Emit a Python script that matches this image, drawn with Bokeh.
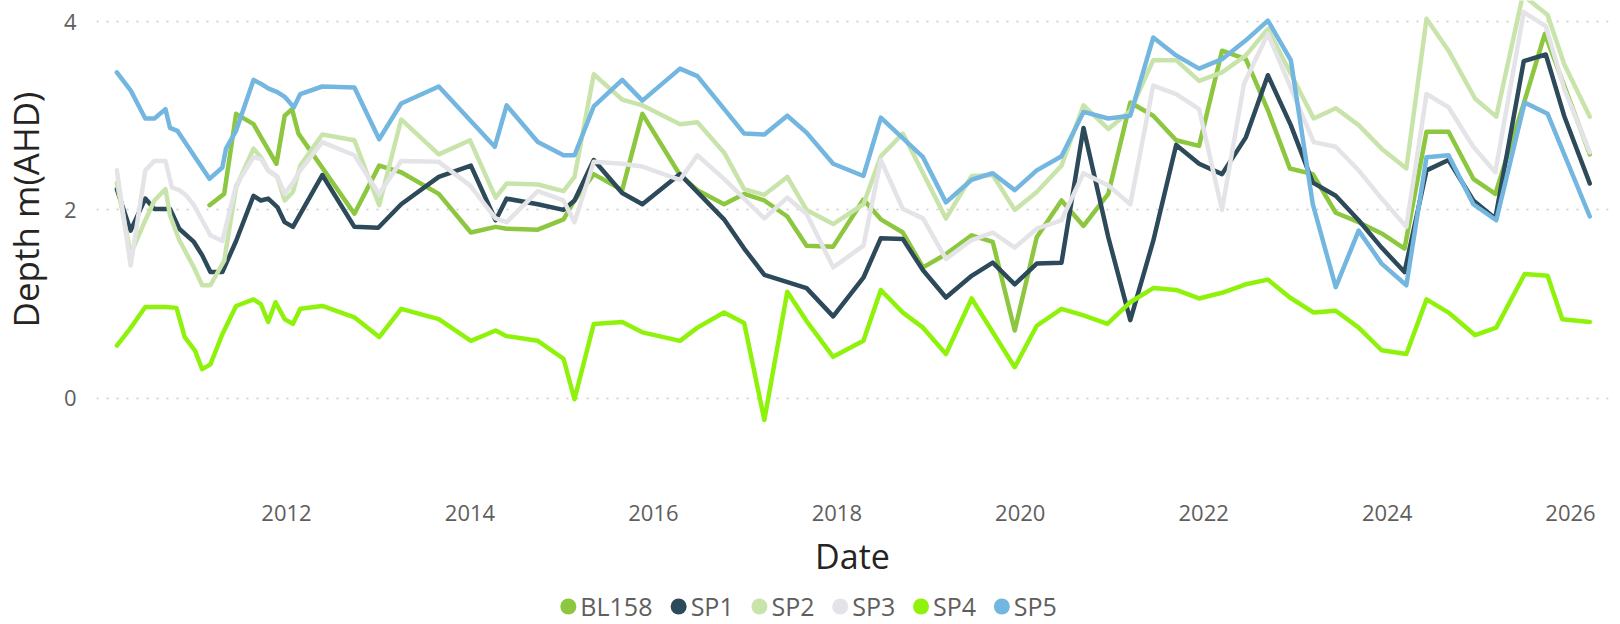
import math
from bokeh.plotting import figure
from bokeh.models import FixedTicker, Range1d
from bokeh.layouts import column, row
from bokeh.embed import file_html
from bokeh.resources import INLINE
from bokeh.core.properties import value

FONT = "Open Sans"

# ---------------- data (dates as decimal years, depth in m AHD) ----------------
series_names = ["BL158", "SP1", "SP2", "SP3", "SP4", "SP5"]
series_colors = ["#8DC63F", "#2D4A5A", "#C9E4AB", "#E4E3E7", "#8FF20B", "#73B6DF"]

bl158_dates = [2011.16, 2011.32, 2011.45, 2011.64, 2011.74, 2011.89, 2011.98, 2012.06, 2012.13, 2012.74,
               2013.01, 2013.25, 2013.66, 2014.01, 2014.28, 2014.40, 2014.74, 2015.02, 2015.14, 2015.35,
               2015.66, 2015.88, 2016.29, 2016.48, 2016.77, 2016.99, 2017.21, 2017.46, 2017.67, 2017.96,
               2018.29, 2018.48, 2018.72, 2018.94, 2019.19, 2019.47, 2019.70, 2019.94, 2020.18, 2020.45,
               2020.69, 2020.96, 2021.20, 2021.45, 2021.70, 2021.95, 2022.20, 2022.46, 2022.70, 2022.94,
               2023.19, 2023.44, 2023.69, 2023.94, 2024.19, 2024.43, 2024.67, 2024.94, 2025.18, 2025.49,
               2025.72, 2026.21]
bl158_depth = [2.05, 2.17, 3.02, 2.91, 2.74, 2.49, 3.00, 3.07, 2.81, 1.96,
               2.47, 2.40, 2.17, 1.76, 1.82, 1.80, 1.79, 1.90, 2.10, 2.38,
               2.21, 3.02, 2.37, 2.21, 2.06, 2.17, 2.10, 1.93, 1.62, 1.61,
               2.11, 1.90, 1.76, 1.39, 1.53, 1.73, 1.66, 0.72, 1.71, 2.10,
               1.83, 2.17, 3.14, 3.00, 2.74, 2.68, 3.69, 3.60, 3.06, 2.44,
               2.38, 1.97, 1.87, 1.75, 1.59, 2.83, 2.83, 2.33, 2.17, 3.13,
               3.87, 2.59]

sp1_dates = [2010.15, 2010.30, 2010.46, 2010.56, 2010.73, 2010.83, 2010.99, 2011.08, 2011.17, 2011.30,
             2011.45, 2011.64, 2011.72, 2011.80, 2011.90, 2011.98, 2012.07, 2012.39, 2012.74, 2013.00,
             2013.25, 2013.66, 2014.01, 2014.28, 2014.40, 2014.74, 2015.02, 2015.14, 2015.35, 2015.66,
             2015.88, 2016.29, 2016.77, 2016.99, 2017.21, 2017.67, 2017.96, 2018.29, 2018.48, 2018.72,
             2018.94, 2019.19, 2019.47, 2019.70, 2019.94, 2020.18, 2020.45, 2020.69, 2020.96, 2021.20,
             2021.45, 2021.70, 2021.95, 2022.20, 2022.46, 2022.70, 2022.95, 2023.19, 2023.44, 2023.69,
             2023.94, 2024.19, 2024.43, 2024.67, 2024.94, 2025.18, 2025.49, 2025.73, 2025.93, 2026.21]
sp1_depth = [2.22, 1.78, 2.12, 2.01, 2.01, 1.80, 1.66, 1.52, 1.34, 1.34,
             1.67, 2.15, 2.10, 2.12, 2.03, 1.87, 1.82, 2.37, 1.82, 1.81,
             2.06, 2.35, 2.47, 1.89, 2.12, 2.06, 2.00, 2.10, 2.53, 2.18,
             2.06, 2.38, 1.90, 1.59, 1.31, 1.17, 0.87, 1.28, 1.70, 1.69,
             1.36, 1.07, 1.30, 1.44, 1.21, 1.43, 1.44, 2.87, 1.71, 0.83,
             1.67, 2.69, 2.49, 2.38, 2.77, 3.43, 2.90, 2.29, 2.15, 1.89,
             1.60, 1.34, 2.42, 2.53, 2.10, 1.91, 3.58, 3.65, 3.00, 2.28]

sp2_dates = [2010.15, 2010.30, 2010.46, 2010.56, 2010.68, 2010.73, 2010.83, 2010.99, 2011.08, 2011.17,
             2011.32, 2011.45, 2011.64, 2011.72, 2011.80, 2011.90, 2011.98, 2012.07, 2012.15, 2012.39,
             2012.74, 2013.01, 2013.25, 2013.66, 2014.00, 2014.28, 2014.40, 2014.74, 2015.02, 2015.14,
             2015.35, 2015.66, 2015.88, 2016.29, 2016.48, 2016.77, 2016.99, 2017.21, 2017.46, 2017.67,
             2017.96, 2018.29, 2018.48, 2018.72, 2019.19, 2019.47, 2019.70, 2019.94, 2020.18, 2020.45,
             2020.69, 2020.96, 2021.20, 2021.45, 2021.70, 2021.95, 2022.20, 2022.46, 2022.70, 2023.20,
             2023.44, 2023.69, 2023.94, 2024.21, 2024.43, 2024.67, 2024.96, 2025.19, 2025.48, 2025.75,
             2025.93, 2026.21]
sp2_depth = [2.29, 1.53, 1.89, 2.10, 2.22, 1.94, 1.68, 1.39, 1.20, 1.20,
             1.46, 2.24, 2.65, 2.56, 2.42, 2.35, 2.10, 2.19, 2.47, 2.80,
             2.74, 2.05, 2.96, 2.59, 2.74, 2.13, 2.28, 2.27, 2.20, 2.35,
             3.44, 3.17, 3.11, 2.91, 2.93, 2.61, 2.22, 2.16, 2.35, 2.00,
             1.85, 2.06, 2.57, 2.81, 1.91, 2.36, 2.37, 2.00, 2.19, 2.47,
             3.11, 2.86, 3.05, 3.59, 3.59, 3.37, 3.46, 3.64, 3.92, 2.97,
             3.08, 2.90, 2.65, 2.44, 4.03, 3.69, 3.18, 2.99, 4.28, 4.07,
             3.55, 2.99]

sp3_dates = [2010.15, 2010.30, 2010.46, 2010.56, 2010.68, 2010.75, 2010.83, 2010.91, 2010.99, 2011.08,
             2011.17, 2011.30, 2011.45, 2011.64, 2011.72, 2011.80, 2011.90, 2011.98, 2012.07, 2012.15,
             2012.39, 2012.74, 2013.01, 2013.25, 2013.66, 2014.00, 2014.28, 2014.40, 2014.74, 2015.02,
             2015.14, 2015.35, 2015.66, 2015.88, 2016.29, 2016.48, 2016.77, 2017.21, 2017.46, 2017.67,
             2017.96, 2018.29, 2018.48, 2018.72, 2018.94, 2019.19, 2019.47, 2019.70, 2019.94, 2020.18,
             2020.45, 2020.69, 2020.96, 2021.20, 2021.45, 2021.70, 2021.95, 2022.20, 2022.44, 2022.70,
             2023.20, 2023.44, 2023.69, 2023.94, 2024.21, 2024.43, 2024.67, 2024.94, 2025.18, 2025.49,
             2025.73, 2025.93, 2026.21]
sp3_depth = [2.42, 1.41, 2.42, 2.52, 2.52, 2.24, 2.21, 2.15, 2.05, 1.89,
             1.73, 1.67, 2.26, 2.56, 2.54, 2.42, 2.35, 2.17, 2.29, 2.42,
             2.72, 2.58, 2.17, 2.52, 2.51, 2.26, 1.91, 1.87, 2.20, 2.10,
             1.87, 2.51, 2.49, 2.46, 2.32, 2.58, 2.33, 1.91, 2.13, 1.96,
             1.39, 1.62, 2.53, 2.01, 1.91, 1.48, 1.68, 1.76, 1.60, 1.80,
             1.89, 2.39, 2.26, 2.06, 3.32, 3.23, 3.07, 2.00, 3.34, 3.87,
             2.72, 2.67, 2.42, 2.12, 1.82, 3.23, 3.09, 2.67, 2.40, 4.10,
             3.95, 3.29, 2.61]

sp4_dates = [2010.15, 2010.28, 2010.46, 2010.56, 2010.68, 2010.80, 2010.89, 2011.00, 2011.08, 2011.17,
             2011.30, 2011.45, 2011.64, 2011.72, 2011.80, 2011.88, 2011.98, 2012.07, 2012.15, 2012.39,
             2012.74, 2013.01, 2013.25, 2013.66, 2014.01, 2014.28, 2014.40, 2014.74, 2015.02, 2015.14,
             2015.35, 2015.66, 2015.88, 2016.29, 2016.48, 2016.77, 2016.99, 2017.21, 2017.46, 2017.67,
             2017.96, 2018.29, 2018.48, 2018.72, 2018.94, 2019.19, 2019.47, 2019.94, 2020.18, 2020.45,
             2020.69, 2020.95, 2021.20, 2021.45, 2021.70, 2021.95, 2022.20, 2022.46, 2022.70, 2022.94,
             2023.20, 2023.44, 2023.69, 2023.94, 2024.21, 2024.43, 2024.67, 2024.96, 2025.19, 2025.50,
             2025.75, 2025.91, 2026.21]
sp4_depth = [0.56, 0.72, 0.97, 0.97, 0.97, 0.96, 0.65, 0.51, 0.31, 0.36,
             0.68, 0.98, 1.05, 1.00, 0.81, 1.02, 0.84, 0.79, 0.95, 0.98,
             0.86, 0.65, 0.95, 0.84, 0.61, 0.72, 0.66, 0.61, 0.42, -0.01,
             0.79, 0.81, 0.70, 0.61, 0.75, 0.91, 0.80, -0.23, 1.13, 0.82,
             0.44, 0.61, 1.15, 0.91, 0.75, 0.47, 1.06, 0.33, 0.77, 0.95,
             0.88, 0.79, 1.02, 1.17, 1.15, 1.06, 1.12, 1.21, 1.26, 1.07,
             0.91, 0.93, 0.75, 0.51, 0.47, 1.05, 0.91, 0.67, 0.75, 1.32,
             1.30, 0.84, 0.81]

sp5_dates = [2010.15, 2010.30, 2010.46, 2010.56, 2010.68, 2010.73, 2010.81, 2011.16, 2011.30, 2011.34,
             2011.45, 2011.64, 2011.72, 2011.80, 2011.90, 2011.98, 2012.08, 2012.15, 2012.39, 2012.74,
             2013.01, 2013.25, 2013.66, 2014.27, 2014.40, 2014.74, 2015.02, 2015.14, 2015.35, 2015.66,
             2015.88, 2016.29, 2016.48, 2016.99, 2017.21, 2017.46, 2017.67, 2017.96, 2018.29, 2018.48,
             2018.94, 2019.19, 2019.47, 2019.70, 2019.94, 2020.18, 2020.45, 2020.69, 2020.96, 2021.20,
             2021.45, 2021.70, 2021.95, 2022.20, 2022.46, 2022.70, 2022.95, 2023.19, 2023.44, 2023.69,
             2023.94, 2024.21, 2024.43, 2024.67, 2024.94, 2025.19, 2025.50, 2025.75, 2026.21]
sp5_depth = [3.46, 3.27, 2.97, 2.97, 3.07, 2.87, 2.84, 2.33, 2.45, 2.65,
             2.84, 3.38, 3.34, 3.29, 3.25, 3.20, 3.09, 3.23, 3.31, 3.30,
             2.75, 3.13, 3.31, 2.67, 3.11, 2.72, 2.58, 2.58, 3.10, 3.38,
             3.16, 3.50, 3.42, 2.81, 2.80, 3.00, 2.82, 2.49, 2.36, 2.98,
             2.56, 2.08, 2.32, 2.39, 2.21, 2.42, 2.57, 3.04, 2.97, 3.00,
             3.83, 3.64, 3.50, 3.60, 3.80, 4.01, 3.59, 2.06, 1.18, 1.78,
             1.43, 1.20, 2.56, 2.58, 2.06, 1.89, 3.14, 3.02, 1.93]

x_ticks = [2012, 2014, 2016, 2018, 2020, 2022, 2024, 2026]
y_ticks = [0, 2, 4]
y_title = "Depth m(AHD)"
x_title = "Date"

all_dates = [bl158_dates, sp1_dates, sp2_dates, sp3_dates, sp4_dates, sp5_dates]
all_depths = [bl158_depth, sp1_depth, sp2_depth, sp3_depth, sp4_depth, sp5_depth]

# ---------------- layout constants (page pixels) ----------------
W = 1620
TITLE_W = 56            # strip holding the rotated y title
FRAME_L, FRAME_R = 96, 1608
FRAME_H = 492
BOTTOM = 96
MAIN_H = FRAME_H + BOTTOM
LEG_H = 36
TICK_COLOR = "#605E5C"
TITLE_COLOR = "#252423"

# ---------------- y-title strip ----------------
tf = figure(width=TITLE_W, height=MAIN_H, output_backend="svg", toolbar_location=None,
            x_range=Range1d(0, TITLE_W), y_range=Range1d(0, FRAME_H),
            x_axis_location=None, y_axis_location=None,
            min_border_left=0, min_border_right=0, min_border_top=0, min_border_bottom=BOTTOM)
tf.outline_line_color = None
tf.grid.visible = False
tf.text([25], [FRAME_H - 209], text=[y_title], angle=math.pi / 2, text_align="center",
        text_baseline="middle", text_font=value(FONT), text_font_size="35px",
        text_color=TITLE_COLOR)

# ---------------- main chart ----------------
p = figure(width=W - TITLE_W, height=MAIN_H, output_backend="svg", toolbar_location=None,
           x_range=Range1d(2009.928, 2026.414), y_range=Range1d(-1.0, 4.223),
           min_border_left=FRAME_L - TITLE_W, min_border_right=W - FRAME_R,
           min_border_top=0, min_border_bottom=BOTTOM)
p.outline_line_color = None
p.background_fill_color = "white"
p.border_fill_color = "white"
p.xgrid.grid_line_color = None
p.ygrid.grid_line_color = "#C8C8C8"
p.ygrid.grid_line_dash = "2 8"
p.ygrid.grid_line_width = 1.5

for ax in (p.xaxis[0], p.yaxis[0]):
    ax.axis_line_color = None
    ax.major_tick_line_color = None
    ax.minor_tick_line_color = None
    ax.major_tick_out = 0
    ax.major_tick_in = 0
    ax.minor_tick_out = 0
    ax.minor_tick_in = 0
    ax.major_label_text_font = FONT
    ax.major_label_text_font_size = "22px"
    ax.major_label_text_color = TICK_COLOR

p.xaxis.ticker = FixedTicker(ticks=x_ticks)
p.yaxis.ticker = FixedTicker(ticks=y_ticks)
p.xaxis.major_label_standoff = 12
p.yaxis.major_label_standoff = 20

p.xaxis.axis_label = x_title
p.xaxis.axis_label_text_font = FONT
p.xaxis.axis_label_text_font_size = "34px"
p.xaxis.axis_label_text_font_style = "normal"
p.xaxis.axis_label_text_color = TITLE_COLOR
p.xaxis.axis_label_standoff = 9

for name, color, xs, ys in zip(series_names, series_colors, all_dates, all_depths):
    p.line(xs, ys, line_color=color, line_width=4.5, line_join="round", line_cap="round")

# ---------------- legend strip (x data = page pixels) ----------------
LEG_FONT_PX = 25
char_w = {"B": 0.642, "L": 0.533, "S": 0.536, "P": 0.604}
def text_w(s):
    return sum(char_w.get(c, 0.572) for c in s) * LEG_FONT_PX

dot = 16
dot_gap = 4
item_gap = 18
widths = [dot + dot_gap + text_w(n) for n in series_names]
total = sum(widths) + item_gap * (len(widths) - 1)
start = 808 - total / 2
dot_x, txt_x = [], []
cur = start
for w in widths:
    dot_x.append(cur + dot / 2)
    txt_x.append(cur + dot + dot_gap)
    cur += w + item_gap

lg = figure(width=W, height=LEG_H, output_backend="svg", toolbar_location=None,
            x_range=Range1d(FRAME_L, FRAME_R), y_range=Range1d(0, LEG_H),
            x_axis_location=None, y_axis_location=None,
            min_border_left=FRAME_L, min_border_right=W - FRAME_R,
            min_border_top=0, min_border_bottom=0)
lg.outline_line_color = None
lg.grid.visible = False
lg.scatter(dot_x, [18] * len(dot_x), size=dot, marker="circle", fill_color=series_colors,
           line_color=None)
lg.text(txt_x, [18.5] * len(txt_x), text=series_names, text_font=value(FONT),
        text_font_size=f"{LEG_FONT_PX}px", text_baseline="middle", text_align="left",
        text_color=TICK_COLOR)

layout = column(row(tf, p, spacing=0), lg, spacing=0)
open("out.html", "w").write(file_html(layout, INLINE))
